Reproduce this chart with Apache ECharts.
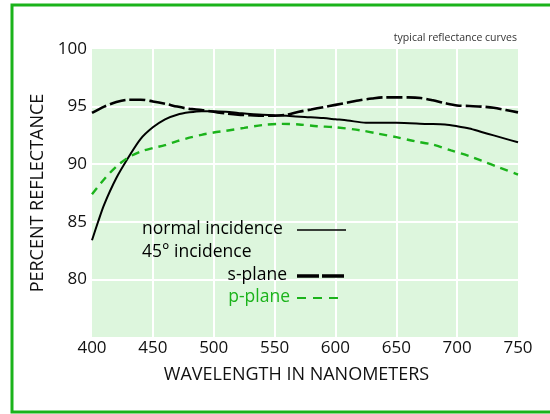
<!DOCTYPE html>
<html>
<head>
<meta charset="utf-8">
<script src="https://cdn.jsdelivr.net/npm/echarts@6/dist/echarts.min.js"></script>
<style>
html,body{margin:0;padding:0;background:#fff;}
#c{width:550px;height:414px;}
</style>
</head>
<body>
<div id="c"></div>
<script>
var xTicks = [400, 450, 500, 550, 600, 650, 700, 750];
var yTicks = [80, 85, 90, 95, 100];

var normalX = [400,405,410,420,430,440,450,460,470,480,490,500,510,520,530,540,550,560,575,590,600,610,625,650,675,690,700,710,720,730,740,750];
var normalY = [83.4,85.0,86.5,88.8,90.6,92.2,93.2,93.9,94.3,94.5,94.6,94.6,94.55,94.45,94.35,94.3,94.25,94.2,94.1,94.0,93.9,93.8,93.6,93.6,93.5,93.45,93.3,93.1,92.8,92.5,92.2,91.9];

var sX = [400,410,420,430,440,450,460,470,480,490,500,510,520,530,540,550,560,570,580,590,600,610,620,630,640,650,660,670,680,690,700,710,720,730,740,750];
var sY = [94.45,95.0,95.4,95.6,95.6,95.45,95.25,95.0,94.8,94.7,94.55,94.4,94.3,94.25,94.2,94.2,94.3,94.55,94.75,94.95,95.15,95.35,95.55,95.7,95.8,95.8,95.8,95.75,95.55,95.3,95.1,95.05,95.0,94.9,94.7,94.5];

var pX = [400,410,420,430,440,450,460,470,480,490,500,510,525,540,555,570,585,600,620,635,650,665,680,695,710,720,735,750];
var pY = [87.4,88.7,89.8,90.6,91.1,91.4,91.65,92.0,92.3,92.55,92.75,92.9,93.15,93.4,93.5,93.45,93.3,93.2,92.95,92.65,92.35,92.0,91.7,91.2,90.7,90.3,89.7,89.1];

var legendLabels = ['normal incidence', '45\u00b0 incidence', 's-plane', 'p-plane'];
var titleText = 'typical reflectance curves';
var xName = 'WAVELENGTH IN NANOMETERS';
var yName = 'PERCENT REFLECTANCE';

function pairs(xs, ys) { return xs.map(function (x, i) { return [x, ys[i]]; }); }

var GREEN = '#1bb31b';
var FONT = 'Open Sans';

var chart = echarts.init(document.getElementById('c'), null, {renderer: 'canvas'});
chart.setOption({
  animation: false,
  backgroundColor: '#ffffff',
  grid: {left: 92, right: 32, top: 49, bottom: 77, show: true, backgroundColor: '#ddf6dd', borderWidth: 0},
  xAxis: {
    type: 'value', min: 400, max: 750, interval: 50,
    axisLine: {show: false}, axisTick: {show: false},
    splitLine: {show: true, showMinLine: false, showMaxLine: false, lineStyle: {color: '#ffffff', width: 2}},
    axisLabel: {color: '#111', fontFamily: FONT, fontSize: 17, margin: 3,
      formatter: function (v) { return xTicks.indexOf(v) >= 0 ? String(v) : ''; }},
    name: xName, nameLocation: 'middle', nameGap: 29,
    nameTextStyle: {color: '#111', fontFamily: FONT, fontSize: 18, padding: [0, 17, 0, 0]}
  },
  yAxis: {
    type: 'value', min: 75, max: 100, interval: 5,
    axisLine: {show: false}, axisTick: {show: false},
    splitLine: {show: true, showMinLine: false, showMaxLine: false, lineStyle: {color: '#ffffff', width: 2}},
    axisLabel: {color: '#111', fontFamily: FONT, fontSize: 17, margin: 5,
      formatter: function (v) { return yTicks.indexOf(v) >= 0 ? String(v) : ''; }},
    name: yName, nameLocation: 'middle', nameGap: 32, nameRotate: 90,
    nameTextStyle: {color: '#111', fontFamily: FONT, fontSize: 18}
  },
  series: [
    {name: legendLabels[0], type: 'line', smooth: 0.3, showSymbol: false, data: pairs(normalX, normalY),
      lineStyle: {color: '#000', width: 2}},
    {name: legendLabels[2], type: 'line', smooth: 0.3, showSymbol: false, data: pairs(sX, sY),
      lineStyle: {color: '#000', width: 2.6, type: [16, 4]}},
    {name: legendLabels[3], type: 'line', smooth: 0.3, showSymbol: false, data: pairs(pX, pY),
      lineStyle: {color: GREEN, width: 2.4, type: [8, 6]}}
  ],
  graphic: [
    {type: 'rect', silent: true, z: 100, shape: {x: 12, y: 5, width: 560, height: 407},
      style: {fill: null, stroke: GREEN, lineWidth: 3}},
    {type: 'text', z: 100, x: 517, y: 38, style: {text: titleText, fill: '#333', font: '10.5px "' + FONT + '"', textAlign: 'right', textVerticalAlign: 'middle'}},
    {type: 'text', z: 100, x: 142, y: 229, style: {text: legendLabels[0], fill: '#000', font: '17.5px "' + FONT + '"', textAlign: 'left', textVerticalAlign: 'middle'}},
    {type: 'text', z: 100, x: 142, y: 252, style: {text: legendLabels[1], fill: '#000', font: '17.5px "' + FONT + '"', textAlign: 'left', textVerticalAlign: 'middle'}},
    {type: 'text', z: 100, x: 287, y: 275, style: {text: legendLabels[2], fill: '#000', font: '17.5px "' + FONT + '"', textAlign: 'right', textVerticalAlign: 'middle'}},
    {type: 'text', z: 100, x: 290, y: 297, style: {text: legendLabels[3], fill: GREEN, font: '17.5px "' + FONT + '"', textAlign: 'right', textVerticalAlign: 'middle'}},
    {type: 'line', z: 100, shape: {x1: 297, y1: 230, x2: 346, y2: 230}, style: {stroke: '#000', lineWidth: 1.5}},
    {type: 'line', z: 100, shape: {x1: 297, y1: 276, x2: 346, y2: 276}, style: {stroke: '#000', lineWidth: 3.5, lineDash: [22, 3]}},
    {type: 'line', z: 100, shape: {x1: 297, y1: 298, x2: 345, y2: 298}, style: {stroke: GREEN, lineWidth: 2, lineDash: [9, 7]}}
  ]
});
</script>
</body>
</html>
